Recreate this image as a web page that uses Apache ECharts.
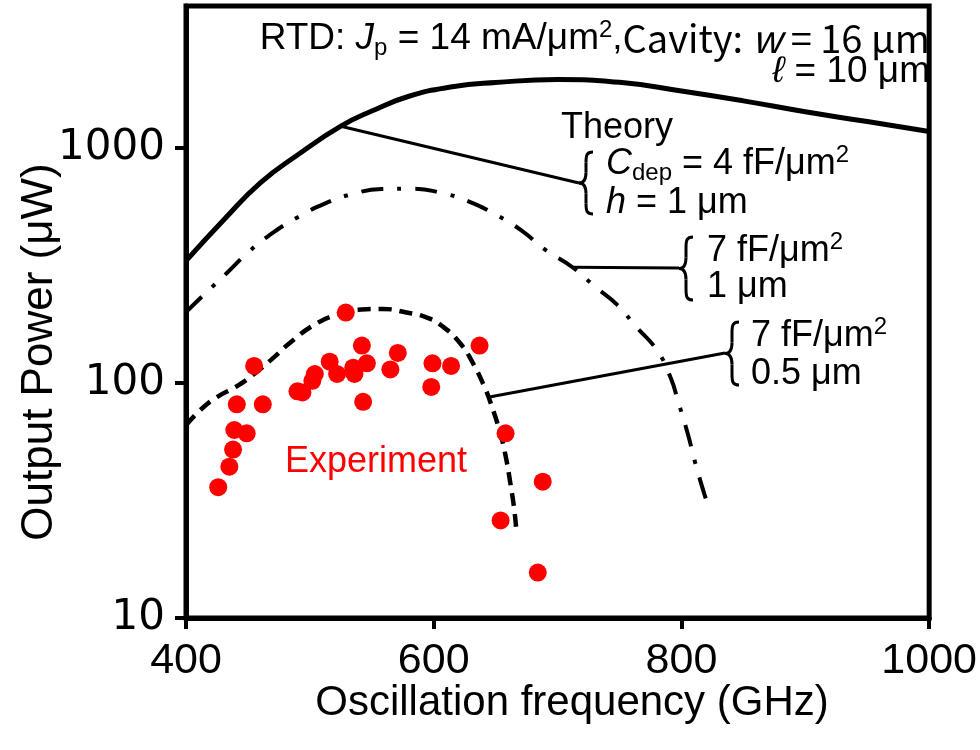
<!DOCTYPE html>
<html>
<head>
<meta charset="utf-8">
<script src="https://cdn.jsdelivr.net/npm/echarts@6/dist/echarts.min.js"></script>
<style>
  html, body { margin: 0; padding: 0; background: #fff; }
  #chart { width: 980px; height: 750px; }
</style>
</head>
<body>
<div id="chart"></div>
<script>
// axis ticks
const xTicks = [400, 600, 800, 1000]
const yTicks = [10, 100, 1000]

// theory: Cdep = 4 fF/um2, h = 1 um (solid)
const solidX = [400, 430, 460, 490, 525, 550, 580, 615, 650, 700, 750, 800, 850, 900, 950, 1000]
const solidY = [330, 490, 708, 930, 1233, 1430, 1653, 1813, 1890, 1947, 1895, 1740, 1580, 1420, 1290, 1170]

// theory: 7 fF/um2, 1 um (dash-dot)
const dashDotX = [400, 416, 433, 451, 470, 490, 512, 535, 558, 583, 606, 629, 650, 671, 690, 712, 730, 748, 763, 780, 791, 798, 805, 811, 819, 821]
const dashDotY = [200, 241, 293, 362, 434, 505, 578, 636, 667, 669, 642, 588, 519, 444, 368, 310, 257, 215, 174, 138, 106, 81, 61, 46, 33, 31]

// theory: 7 fF/um2, 0.5 um (dashed)
const dashedX = [400, 412, 425, 440, 454, 470, 484, 504, 522, 542, 559, 578, 595, 607, 621, 631, 641, 647, 653, 658, 662, 665, 667]
const dashedY = [66, 77, 87, 96, 108, 127, 148, 177, 195, 205, 206, 199, 189, 174, 148, 123, 96, 79, 63, 49, 37, 29, 22.6]

// experiment
const expX = [529, 542, 571, 637, 455, 516, 504, 502, 522, 535, 536, 546, 565, 599, 614, 598, 490, 494, 543, 441, 462, 439, 449, 438, 435, 426, 658, 688, 654, 684]
const expY = [199, 144, 134, 144, 118, 123, 109, 102, 109, 116, 109, 121, 114, 121, 118, 96, 92, 91, 83, 81, 81, 63, 61, 52, 44, 36, 61, 38, 26, 15.6]

// points on the curves where the leader lines start
const leaderAnchors = [[525, 1233], [712, 310], [645, 87]]

const font = 'Liberation Sans, Arial, sans-serif'
const jpFont = 'Noto Sans CJK JP, Liberation Sans, sans-serif'
const zip = (xs, ys) => xs.map((x, i) => [x, ys[i]])

const chart = echarts.init(document.getElementById('chart'))

chart.setOption({
  animation: false,
  grid: {
    left: 186, right: 47, top: 6, bottom: 132,
    show: true, borderColor: '#000', borderWidth: 5
  },
  xAxis: {
    type: 'value', min: 400, max: 1000, interval: 200,
    axisLine: { lineStyle: { color: '#000', width: 5 } },
    axisTick: { length: 11, lineStyle: { color: '#000', width: 4 } },
    axisLabel: {
      color: '#000', fontSize: 43, fontFamily: font, margin: 22,
      customValues: xTicks,
      formatter: (v) => String(v)
    },
    splitLine: { show: false }
  },
  yAxis: {
    type: 'log', logBase: 10, min: 10, max: 4000,
    axisLine: { show: true, lineStyle: { color: '#000', width: 5 } },
    axisTick: { show: true, length: 11, customValues: yTicks, lineStyle: { color: '#000', width: 4 } },
    axisLabel: {
      color: '#000', fontSize: 42, fontFamily: 'DejaVu Sans, sans-serif', margin: 21,
      customValues: yTicks,
      formatter: (v) => String(Math.round(v))
    },
    splitLine: { show: false }
  },
  series: [
    {
      type: 'line', data: zip(solidX, solidY), smooth: true, symbol: 'none',
      lineStyle: { color: '#000', width: 5 }, z: 3
    },
    {
      type: 'line', data: zip(dashDotX, dashDotY), smooth: true, symbol: 'none',
      lineStyle: { color: '#000', width: 4, type: [22, 14, 4, 14] }, z: 3
    },
    {
      type: 'line', data: zip(dashedX, dashedY), smooth: true, symbol: 'none',
      lineStyle: { color: '#000', width: 4.5, type: [13, 8] }, z: 3
    },
    {
      type: 'scatter', data: zip(expX, expY), symbol: 'circle', symbolSize: 18,
      itemStyle: { color: '#ff0000', opacity: 1 }, z: 4
    }
  ]
})

// curly brace "{" with its tip at (x, mid)
function brace (x, top, bottom, w) {
  const mid = (top + bottom) / 2
  const h = mid - top
  const xm = x + w * 0.5
  const xr = x + w
  const st = { stroke: '#000', lineWidth: 3, fill: null }
  const bez = (x1, y1, cpx1, cpy1, cpx2, cpy2, x2, y2) =>
    ({ type: 'bezierCurve', shape: { x1, y1, cpx1, cpy1, cpx2, cpy2, x2, y2 }, style: st })
  const ln = (x1, y1, x2, y2) => ({ type: 'line', shape: { x1, y1, x2, y2 }, style: st })
  return [
    bez(xr, top, xm + w * 0.05, top, xm, top + h * 0.1, xm, top + h * 0.35),
    ln(xm, top + h * 0.35, xm, mid - h * 0.35),
    bez(xm, mid - h * 0.35, xm, mid - h * 0.08, x + w * 0.25, mid, x, mid),
    bez(x, mid, x + w * 0.25, mid, xm, mid + h * 0.08, xm, mid + h * 0.35),
    ln(xm, mid + h * 0.35, xm, bottom - h * 0.35),
    bez(xm, bottom - h * 0.35, xm, bottom - h * 0.1, xm + w * 0.05, bottom, xr, bottom)
  ]
}

const rich = {
  a: { fontSize: 36, fontFamily: font, lineHeight: 42, fill: '#000' },
  i: { fontSize: 36, fontFamily: font, fontStyle: 'italic', lineHeight: 42, fill: '#000' },
  s: { fontSize: 24, fontFamily: font, lineHeight: 20, verticalAlign: 'bottom', fill: '#000' },
  p: { fontSize: 24, fontFamily: font, lineHeight: 20, verticalAlign: 'top', fill: '#000' },
  h: { fontSize: 37, fontFamily: font, lineHeight: 42, fill: '#000' },
  hi: { fontSize: 37, fontFamily: font, fontStyle: 'italic', lineHeight: 42, fill: '#000' },
  c: { fontSize: 38, fontFamily: jpFont, lineHeight: 42, fill: '#000' },
  ci: { fontSize: 38, fontFamily: jpFont, fontStyle: 'italic', lineHeight: 42, fill: '#000' }
}

function txt (x, y, text, align, extra) {
  return {
    type: 'text', x, y, z: 10,
    style: Object.assign({
      text, rich, fill: '#000', fontSize: 36, fontFamily: font, lineHeight: 42,
      align: align || 'left', verticalAlign: 'middle'
    }, extra || {})
  }
}

const px = leaderAnchors.map((p) => chart.convertToPixel({ gridIndex: 0 }, p))
const leaderStyle = { stroke: '#000', lineWidth: 3 }
const tips = [[579, 183], [679, 268], [725, 353]]

const elements = [
  // leaders
  ...px.map((p, k) => ({
    type: 'line', z: 5,
    shape: { x1: p[0], y1: p[1], x2: tips[k][0], y2: tips[k][1] },
    style: leaderStyle
  })),
  ...brace(579, 152, 214, 14),
  ...brace(679, 237, 300, 14),
  ...brace(725, 322, 385, 14),

  // labels
  txt(617, 128, '{a|Theory}', 'center'),
  txt(606, 164, '{i|C}{s|dep}{a| = 4 fF/μm}{p|2}'),
  txt(606, 203, '{i|h}{a| = 1 μm}'),
  txt(707, 251, '{a|7 fF/μm}{p|2}'),
  txt(707, 287, '{a|1 μm}'),
  txt(751, 336, '{a|7 fF/μm}{p|2}'),
  txt(751, 374, '{a|0.5 μm}'),
  txt(376, 462, 'Experiment', 'center', { fill: '#ff0000', fontSize: 36, rich: null }),

  // header
  txt(930, 39, '{h|RTD: }{hi|J}{s|p}{h| = 14 mA/μm}{p|2}{h|,}{c|Cavity: }{ci|w}{c| = 16 μm}', 'right'),
  txt(930, 72, '{hi|ℓ}{h| = 10 μm}', 'right'),

  // axis titles
  txt(572, 703, 'Oscillation frequency (GHz)', 'center', { fontSize: 42, rich: null }),
  {
    type: 'text', x: 40, y: 352, rotation: Math.PI / 2, z: 10,
    style: {
      text: 'Output Power (μW)', fill: '#000', fontSize: 44, fontFamily: font,
      align: 'center', verticalAlign: 'middle'
    }
  }
]

chart.setOption({ graphic: { elements } })
</script>
</body>
</html>
